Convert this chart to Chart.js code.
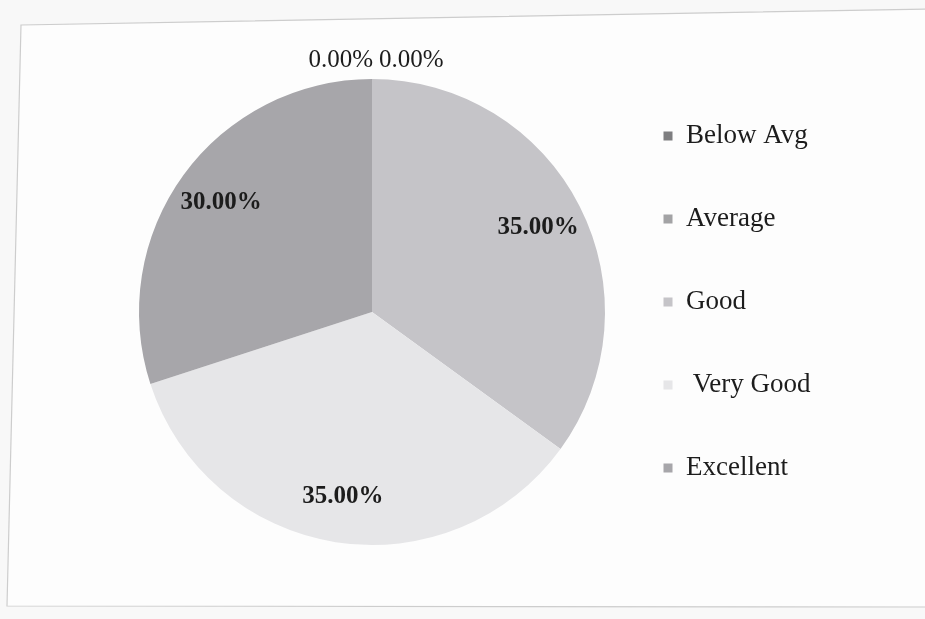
<!DOCTYPE html>
<html>
<head>
<meta charset="utf-8">
<script src="https://cdn.jsdelivr.net/npm/chart.js@4.4.0/dist/chart.umd.min.js"></script>
<style>
  html, body { margin: 0; padding: 0; background: #f8f8f8; width: 925px; height: 619px; overflow: hidden; }
  #frame { position: absolute; left: 0; top: 0; }
  #wrap { position: absolute; left: 0; top: 0; width: 925px; height: 619px; }
</style>
</head>
<body>
<svg id="frame" width="925" height="619">
  <polygon points="21,25 930,9 930,607 7,606" fill="#fdfdfd" stroke="#cdcdcd" stroke-width="1.2"/>
</svg>
<div id="wrap"><canvas id="pie-chart" width="925" height="619"></canvas></div>
<script>
// data
const categories = ['Below Avg', 'Average', 'Good', ' Very Good', 'Excellent'];
const shares = [0, 0, 35, 35, 30];
const sliceColors = ['#7e7e80', '#a3a3a5', '#c5c4c8', '#e6e6e8', '#a7a6aa'];

const serif = "'Liberation Serif', 'Times New Roman', serif";
const legendWidth = 317.5;

// keep the legend column at a fixed width so the pie and the labels line up
const legendSize = {
    id: 'legendSize',
    beforeInit(chart) {
        const fit = chart.legend.fit;
        chart.legend.fit = function () {
            fit.call(this);
            this.width = legendWidth;
        };
    }
};

// percentage labels on the slices, placed from the arc elements
const sliceLabels = {
    id: 'sliceLabels',
    afterDatasetsDraw(chart) {
        const ctx = chart.ctx;
        const meta = chart.getDatasetMeta(0);
        const values = chart.data.datasets[0].data;
        const total = values.reduce((a, b) => a + b, 0);
        const zeros = [];
        ctx.save();
        ctx.fillStyle = '#1c1c1c';
        ctx.textBaseline = 'middle';
        ctx.textAlign = 'center';
        meta.data.forEach((arc, i) => {
            const p = arc.getProps(['x', 'y', 'startAngle', 'endAngle', 'outerRadius'], true);
            const txt = (values[i] / total * 100).toFixed(2) + '%';
            if (values[i] === 0) {
                zeros.push({ txt, p });
                return;
            }
            const mid = (p.startAngle + p.endAngle) / 2;
            const r = p.outerRadius * 0.8;
            ctx.font = 'bold 25px ' + serif;
            ctx.fillText(txt, p.x + Math.cos(mid) * r, p.y + Math.sin(mid) * r);
        });
        // zero slices sit together above the top of the pie
        if (zeros.length) {
            ctx.font = '25px ' + serif;
            const gap = 6;
            const widths = zeros.map(z => ctx.measureText(z.txt).width);
            const full = widths.reduce((a, b) => a + b, 0) + gap * (zeros.length - 1);
            const p0 = zeros[0].p;
            let x = p0.x + 4 - full / 2;
            const y = p0.y - p0.outerRadius - 19;
            ctx.textAlign = 'left';
            zeros.forEach((z, i) => {
                ctx.fillText(z.txt, x, y);
                x += widths[i] + gap;
            });
        }
        ctx.restore();
    }
};

const ctx = document.getElementById('pie-chart').getContext('2d');
const pieChart = new Chart(ctx, {
    type: 'pie',
    data: {
        labels: categories,
        datasets: [{
            data: shares,
            backgroundColor: sliceColors,
            borderWidth: 0,
            radius: 233,
            clip: false
        }]
    },
    options: {
        responsive: false,
        animation: false,
        layout: { padding: { left: 136.5, right: 0, top: 66.5, bottom: 61.5 } },
        plugins: {
            tooltip: { enabled: false },
            legend: {
                position: 'right',
                align: 'start',
                labels: {
                    boxWidth: 9,
                    boxHeight: 9,
                    padding: 56,
                    color: '#1c1c1c',
                    font: { family: serif, size: 27 }
                }
            }
        }
    },
    plugins: [legendSize, sliceLabels]
});
</script>
</body>
</html>
